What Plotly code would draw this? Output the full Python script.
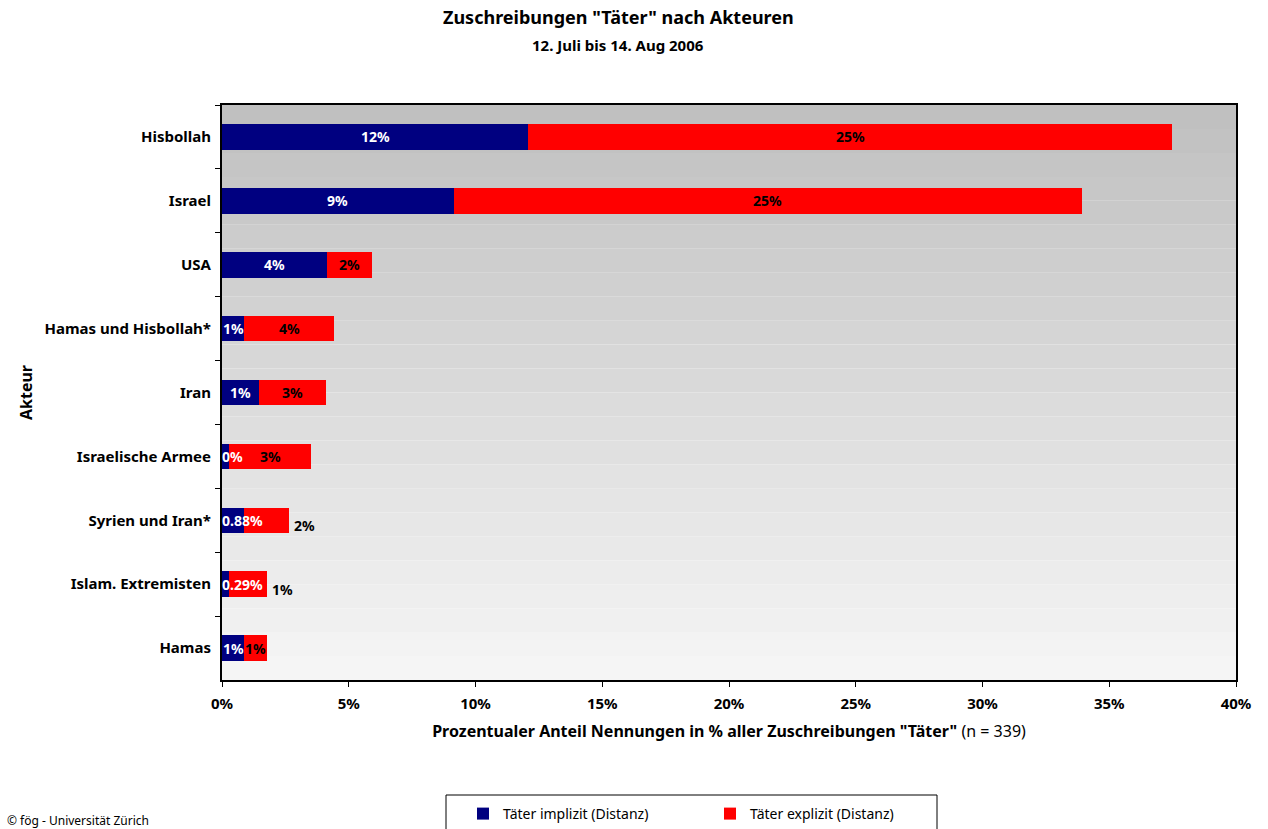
import plotly.graph_objects as go

# ---- data (share of n = 339 attributions, in %) ----
categories = ["Hisbollah", "Israel", "USA", "Hamas und Hisbollah*", "Iran",
              "Israelische Armee", "Syrien und Iran*", "Islam. Extremisten", "Hamas"]
implizit = [12.09, 9.14, 4.13, 0.88, 1.47, 0.29, 0.88, 0.29, 0.88]
explizit = [25.37, 24.78, 1.77, 3.54, 2.65, 3.24, 1.77, 1.47, 0.88]
implizit_labels = ["12%", "9%", "4%", "1%", "1%", "0%", "0.88%", "0.29%", "1%"]
explizit_labels = ["25%", "25%", "2%", "4%", "3%", "3%", "2%", "1%", "1%"]
explizit_label_outside = [False, False, False, False, False, False, True, True, False]
x_tickvals = [0, 5, 10, 15, 20, 25, 30, 35, 40]
x_ticktext = ["0%", "5%", "10%", "15%", "20%", "25%", "30%", "35%", "40%"]

BLUE = "#000080"
RED = "#ff0000"
FONT = "Noto Sans"

W, H = 1268, 829
# plot area in screen pixels
L, R, T, B = 222, 1236, 105, 680
PW, PH = R - L, B - T


def px_x(p):
    return (p - L) / PW


def px_y(p):
    return (B - p) / PH


fig = go.Figure()
fig.add_trace(go.Bar(y=categories, x=implizit, orientation="h", name="Täter implizit (Distanz)",
                     marker=dict(color=BLUE, line=dict(width=0))))
fig.add_trace(go.Bar(y=categories, x=explizit, orientation="h", name="Täter explizit (Distanz)",
                     marker=dict(color=RED, line=dict(width=0))))

annotations = []
lab_font = dict(family=FONT, size=14, weight="bold")
for cat, a, b, la, lb, out in zip(categories, implizit, explizit, implizit_labels,
                                  explizit_labels, explizit_label_outside):
    text_w = len(la) * 8.5
    bar_w = a / 40 * PW
    if text_w > bar_w:
        annotations.append(dict(x=0, y=cat, xref="x", yref="y", text=la, showarrow=False,
                                xanchor="left", xshift=-2, font=dict(lab_font, color="white")))
    else:
        annotations.append(dict(x=a / 2, y=cat, xref="x", yref="y", text=la, showarrow=False,
                                xanchor="center", font=dict(lab_font, color="white")))
    if out:
        annotations.append(dict(x=a + b, y=cat, xref="x", yref="y", text=lb, showarrow=False,
                                xanchor="left", xshift=3, yshift=-5, font=dict(lab_font, color="black")))
    else:
        annotations.append(dict(x=a + b / 2, y=cat, xref="x", yref="y", text=lb, showarrow=False,
                                xanchor="center", font=dict(lab_font, color="black")))

annotations += [
    dict(x=px_x(618), y=px_y(17), xref="paper", yref="paper", text="<b>Zuschreibungen \"Täter\" nach Akteuren</b>",
         showarrow=False, xanchor="center", yanchor="middle", font=dict(family=FONT, size=18, color="black")),
    dict(x=px_x(618), y=px_y(45), xref="paper", yref="paper", text="<b>12. Juli bis 14. Aug 2006</b>",
         showarrow=False, xanchor="center", yanchor="middle", font=dict(family=FONT, size=15, color="black")),
    dict(x=px_x(5), y=px_y(820), xref="paper", yref="paper", text="© fög - Universität Zürich",
         showarrow=False, xanchor="left", yanchor="middle", font=dict(family=FONT, size=12, color="black")),
]

# background gradient bands (plot area)
shapes = []
n_bands = 24
top_c, bot_c = 192, 245
for i in range(n_bands):
    c = round(top_c + (bot_c - top_c) * i / (n_bands - 1))
    shapes.append(dict(type="rect", xref="x domain", yref="y domain",
                       x0=0, x1=1, y0=1 - (i + 1) / n_bands, y1=1 - i / n_bands,
                       fillcolor=f"rgb({c},{c},{c})", line=dict(width=0), layer="below"))
# legend frame
shapes.append(dict(type="rect", xref="paper", yref="paper",
                   x0=px_x(446), x1=px_x(937), y0=px_y(860), y1=px_y(795),
                   line=dict(color="black", width=1), fillcolor="rgba(0,0,0,0)"))

fig.update_layout(
    width=W, height=H,
    margin=dict(l=L, r=W - R, t=T, b=H - B),
    paper_bgcolor="white", plot_bgcolor="rgba(0,0,0,0)",
    barmode="stack", bargap=0.6,
    font=dict(family=FONT, color="black"),
    showlegend=True,
    legend=dict(orientation="h", xref="container", yref="container",
                x=463 / W, y=1 - 798 / H, xanchor="left", yanchor="top",
                entrywidth=202, entrywidthmode="pixels", font=dict(family=FONT, size=14),
                bgcolor="rgba(0,0,0,0)", borderwidth=0, traceorder="normal"),
    annotations=annotations,
    shapes=shapes,
)
fig.update_xaxes(range=[0, 40], tickvals=x_tickvals, ticktext=x_ticktext,
                 showgrid=False, zeroline=False, showline=True, linecolor="black", linewidth=2,
                 mirror=True, ticks="outside", ticklen=5, tickcolor="black", ticklabelstandoff=4,
                 tickfont=dict(family=FONT, size=15, weight="bold"),
                 title=dict(text="<b>Prozentualer Anteil Nennungen in % aller Zuschreibungen \"Täter\"</b> (n = 339)",
                            font=dict(family=FONT, size=16), standoff=14))
fig.update_yaxes(categoryorder="array", categoryarray=categories, autorange="reversed",
                 showgrid=False, zeroline=False, showline=True, linecolor="black", linewidth=2,
                 mirror=True, ticks="outside", ticklen=5, tickcolor="black", tickson="boundaries",
                 ticklabelstandoff=6,
                 tickfont=dict(family=FONT, size=15, weight="bold"),
                 title=dict(text="<b>Akteur</b>", font=dict(family=FONT, size=16), standoff=8))

fig.write_html("out.html", config={"displayModeBar": False},
               post_script="document.body.style.margin='0';")
